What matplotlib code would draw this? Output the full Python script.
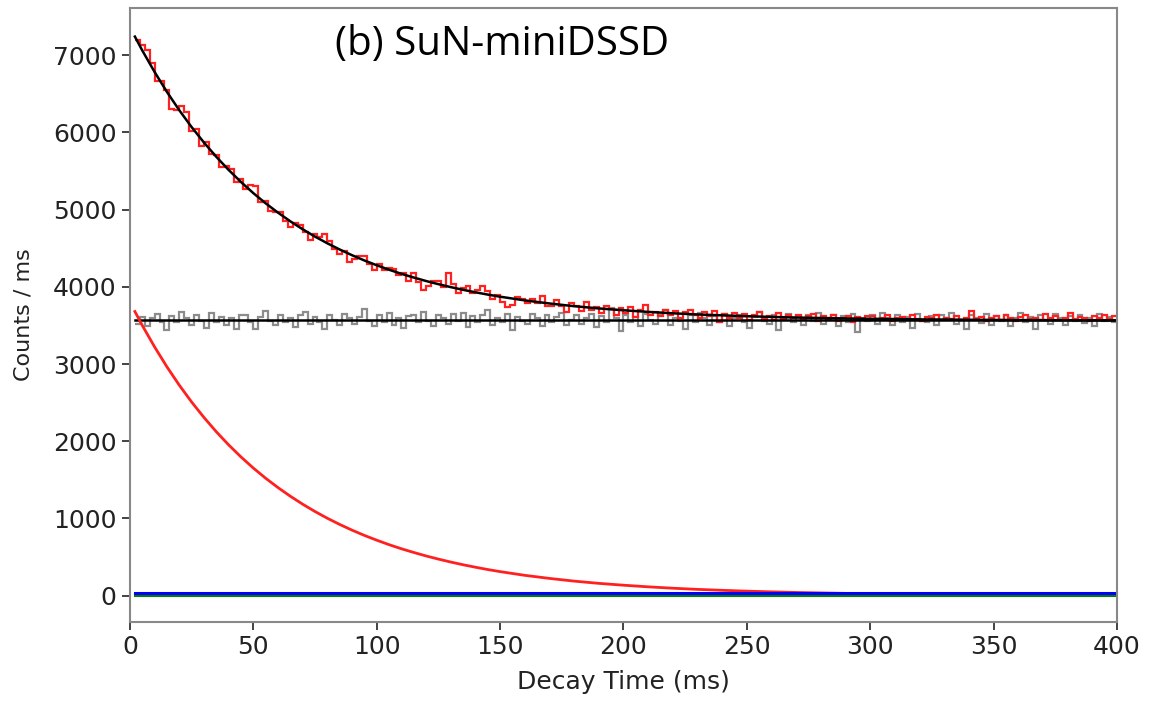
import matplotlib
matplotlib.use("Agg")
import matplotlib.pyplot as plt
import numpy as np

# measured spectrum (2 ms bins starting at 2 ms)
red_counts = [
    7200, 7130, 7060, 6900, 6660, 6670, 6550, 6300, 6295, 6335,
    6260, 6015, 6040, 5820, 5880, 5720, 5710, 5550, 5570, 5520,
    5360, 5390, 5260, 5320, 5305, 5095, 5105, 4985, 4965, 4970,
    4855, 4780, 4830, 4805, 4715, 4610, 4685, 4640, 4680, 4590,
    4495, 4425, 4465, 4315, 4355, 4400, 4405, 4300, 4220, 4300,
    4215, 4245, 4235, 4150, 4180, 4080, 4180, 4060, 3955, 4005,
    4070, 4075, 4000, 4185, 4030, 3915, 3982, 4010, 3915, 3955,
    4012, 3950, 3848, 3897, 3798, 3738, 3758, 3868, 3838, 3790,
    3842, 3784, 3886, 3748, 3750, 3833, 3746, 3679, 3792, 3756,
    3690, 3804, 3698, 3742, 3658, 3753, 3718, 3633, 3728, 3664,
    3740, 3605, 3701, 3767, 3633, 3680, 3616, 3702, 3639, 3685,
    3592, 3669, 3706, 3633, 3601, 3668, 3616, 3683, 3541, 3649,
    3596, 3664, 3602, 3650, 3568, 3636, 3674, 3583, 3621, 3569,
    3657, 3586, 3634, 3593, 3641, 3570, 3619, 3648, 3557, 3616,
    3574, 3633, 3562, 3601, 3620, 3539, 3608, 3577, 3626,
    3620, 3570, 3600, 3640, 3560, 3590, 3615, 3575, 3630, 3580,
    3560, 3610, 3595, 3640, 3570, 3600, 3585, 3620, 3575, 3595,
    3690, 3580, 3610, 3560, 3600, 3620, 3575, 3640, 3590, 3560,
    3610, 3630, 3580, 3600, 3570, 3650, 3590, 3620, 3565, 3600,
    3665, 3580, 3610, 3595, 3560, 3620, 3590, 3630, 3580, 3620,
]

# background spectrum (same binning)
gray_counts = [
    3520, 3610, 3490, 3600, 3650, 3540, 3440, 3620, 3550, 3680,
    3590, 3500, 3630, 3560, 3470, 3660, 3540, 3610, 3500, 3600,
    3450, 3630, 3640, 3540, 3460, 3610, 3690, 3560, 3510, 3630,
    3540, 3600, 3480, 3630, 3670, 3520, 3610, 3550, 3460, 3640,
    3570, 3500, 3650, 3590, 3520, 3610, 3710, 3560, 3490, 3630,
    3540, 3660, 3500, 3600, 3470, 3620, 3630, 3540, 3680, 3560,
    3490, 3640, 3590, 3520, 3650, 3560, 3660, 3480, 3620, 3540,
    3630, 3700, 3510, 3600, 3540, 3650, 3440, 3610, 3560, 3520,
    3650, 3590, 3490, 3630, 3540, 3610, 3660, 3500, 3570, 3640,
    3520, 3600, 3650, 3480, 3620, 3540, 3720, 3590, 3430, 3630,
    3540, 3610, 3490, 3650, 3570, 3520, 3630, 3700, 3500, 3600,
    3560, 3460, 3640, 3540, 3660, 3590, 3500, 3620, 3540, 3650,
    3490, 3600, 3630, 3540, 3470, 3610, 3670, 3560, 3520, 3640,
    3440, 3590, 3650, 3540, 3620, 3500, 3630, 3560, 3660, 3520,
    3600, 3640, 3490, 3620, 3540, 3650, 3420, 3600, 3560, 3630,
    3520, 3660, 3590, 3500, 3640, 3540, 3610, 3470, 3650, 3560,
    3540, 3620, 3500, 3640, 3590, 3660, 3520, 3570, 3460, 3630,
    3590, 3530, 3650, 3500, 3620, 3560, 3640, 3490, 3600, 3660,
    3540, 3610, 3450, 3630, 3570, 3520, 3650, 3590, 3500, 3620,
    3560, 3640, 3530, 3600, 3490, 3650, 3560, 3610, 3540,
]

# fit curves read at these times (ms)
fit_t = [2, 5, 10, 15, 20, 25, 30, 35, 40, 45, 50, 55, 60, 65, 70, 75, 80,
         85, 90, 95, 100, 105, 110, 115, 120, 125, 130, 135, 140, 145, 150,
         160, 170, 180, 190, 200, 210, 220, 230, 240, 250, 260, 270, 280,
         290, 300, 310, 320, 330, 340, 350, 360, 370, 380, 390, 400]
fit_total = [7240, 7060, 6781, 6523, 6286, 6068, 5868, 5683, 5513, 5357,
             5213, 5081, 4960, 4848, 4745, 4650, 4563, 4483, 4409, 4341,
             4279, 4221, 4168, 4120, 4075, 4034, 3996, 3961, 3929, 3899,
             3872, 3824, 3784, 3749, 3720, 3696, 3675, 3657, 3642, 3630,
             3619, 3610, 3602, 3596, 3590, 3586, 3582, 3578, 3576, 3573,
             3571, 3569, 3568, 3567, 3566, 3565]
fit_parent = [3680, 3500, 3221, 2963, 2726, 2508, 2308, 2123, 1953, 1797,
              1653, 1521, 1400, 1288, 1185, 1090, 1003, 923, 849, 781,
              719, 661, 608, 560, 515, 474, 436, 401, 369, 339,
              312, 264, 224, 189, 160, 136, 115, 97, 82, 70,
              59, 50, 42, 36, 30, 26, 22, 18, 16, 13,
              11, 9, 8, 7, 6, 5]
fit_bkg_t = [2, 400]
fit_bkg = [3565, 3565]
fit_daughter = [40, 40]
fit_granddaughter = [3, 3]

fig = plt.figure(figsize=(11.53, 7.02), dpi=100)
ax = fig.add_axes([0.1127, 0.114, 0.8561, 0.8746])

edges = 2 + 2 * np.arange(len(red_counts) + 1)
gedges = 2 + 2 * np.arange(len(gray_counts) + 1)

ax.stairs(gray_counts, gedges, baseline=None, color='#8c8c8c', lw=1.6)
ax.stairs(red_counts, edges, baseline=None, color='#ff2020', lw=1.6)
ax.plot(fit_bkg_t, fit_bkg, color='black', lw=1.8)
ax.plot(fit_t, fit_total, color='black', lw=1.8)
ax.plot(fit_t, fit_parent, color='#ff2020', lw=2)
ax.plot(fit_bkg_t, fit_granddaughter, color='green', lw=2.2)
ax.plot(fit_bkg_t, fit_daughter, color='blue', lw=2.2)

ax.set_xlim(0, 400)
ax.set_ylim(-340, 7610)
ax.set_xticks(range(0, 401, 50))
ax.set_yticks(range(0, 7001, 1000))
ax.tick_params(labelsize=18, length=6, width=1.2, colors='#222222')
for s in ax.spines.values():
    s.set_color('#888888')
    s.set_linewidth(1.5)

ax.set_xlabel('Decay Time (ms)', fontsize=18, color='#222222', labelpad=8)
ax.set_ylabel('Counts / ms', fontsize=16, color='#222222', labelpad=14)

ax.text(0.208, 0.94, '(b) SuN-miniDSSD', transform=ax.transAxes,
        fontsize=29, family='Open Sans', va='center', ha='left')

fig.savefig('out.png', dpi=100)
